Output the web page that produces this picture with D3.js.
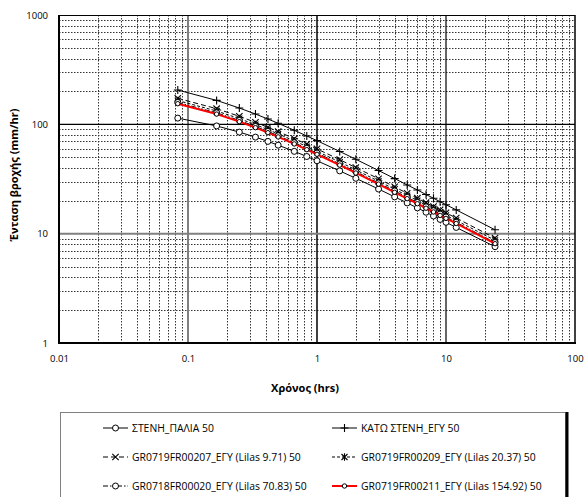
<!DOCTYPE html>
<html>
<head>
<meta charset="utf-8">
<script src="https://cdn.jsdelivr.net/npm/d3@7"></script>
<style>
  body { margin: 0; background: #fff; }
  svg { font-family: "Open Sans", "Noto Sans", sans-serif; }
</style>
</head>
<body>
<svg id="chart" width="584" height="497"></svg>
<script>
// durations in hours
const durations = [5/60, 10/60, 15/60, 20/60, 25/60, 30/60, 40/60, 50/60, 1, 1.5, 2, 3, 4, 5, 6, 7, 8, 9, 10, 12, 24];

// intensities mm/hr
const stenhPalia = [114, 96.7, 84.9, 76.4, 69.8, 64.5, 56.6, 50.8, 46.4, 37.5, 32.1, 25.6, 21.7, 19.1, 17.2, 15.7, 14.5, 13.5, 12.7, 11.4, 7.6];
const katoStenh  = [206, 165.5, 141, 124.2, 111.8, 102.2, 88.2, 78.3, 70.9, 56.5, 47.9, 37.8, 31.9, 27.9, 25.1, 22.8, 21.1, 19.6, 18.4, 16.5, 10.85];
const gr207      = [173, 139, 118.4, 104.3, 93.9, 85.8, 74.1, 65.8, 59.6, 47.5, 40.2, 31.8, 26.8, 23.4, 21.1, 19.2, 17.7, 16.5, 15.5, 13.9, 9.1];
const gr209      = [165, 132.4, 112.8, 99.4, 89.4, 81.8, 70.6, 62.6, 56.7, 45.2, 38.3, 30.2, 25.5, 22.3, 20.1, 18.2, 16.9, 15.7, 14.7, 13.2, 8.7];
const gr020      = [158.6, 127.4, 108.6, 95.6, 86.1, 78.7, 67.9, 60.3, 54.6, 43.5, 36.9, 29.1, 24.6, 21.5, 19.3, 17.6, 16.2, 15.1, 14.2, 12.7, 8.3];
const gr211      = [154.5, 124.1, 105.8, 93.2, 83.9, 76.7, 66.2, 58.7, 53.2, 42.4, 35.9, 28.4, 23.9, 20.9, 18.8, 17.1, 15.8, 14.7, 13.8, 12.4, 8.1];

const seriesNames = [
  "ΣΤΕΝΗ_ΠΑΛΙΑ 50",
  "ΚΑΤΩ ΣΤΕΝΗ_ΕΓΥ 50",
  "GR0719FR00207_ΕΓΥ (Lilas 9.71) 50",
  "GR0719FR00209_ΕΓΥ (Lilas 20.37) 50",
  "GR0718FR00020_ΕΓΥ (Lilas 70.83) 50",
  "GR0719FR00211_ΕΓΥ (Lilas 154.92) 50"
];

const xTicks = [0.01, 0.1, 1, 10, 100];
const yTicks = [1, 10, 100, 1000];

const svg = d3.select("#chart");
const pLeft = 59, pRight = 575, pTop = 15, pBottom = 343;

const x = d3.scaleLog().domain([0.01, 100]).range([pLeft, pRight]);
const y = d3.scaleLog().domain([1, 1000]).range([pBottom, pTop]);

// minor grid
let xMinor = [], yMinor = [];
[0.01, 0.1, 1, 10].forEach(d => { for (let k = 2; k <= 9; k++) xMinor.push(k * d); });
[1, 10, 100].forEach(d => { for (let k = 2; k <= 9; k++) yMinor.push(k * d); });

const grid = svg.append("g");
grid.selectAll(".vminor").data(xMinor).enter().append("line")
  .attr("x1", d => Math.round(x(d)) + 0.5).attr("x2", d => Math.round(x(d)) + 0.5)
  .attr("y1", pTop).attr("y2", pBottom)
  .attr("stroke", "#333").attr("stroke-width", 1).attr("stroke-dasharray", "1.5,1.5");
grid.selectAll(".hminor").data(yMinor).enter().append("line")
  .attr("y1", d => Math.round(y(d)) + 0.5).attr("y2", d => Math.round(y(d)) + 0.5)
  .attr("x1", pLeft).attr("x2", pRight)
  .attr("stroke", "#333").attr("stroke-width", 1).attr("stroke-dasharray", "1.5,1.5");

// major grid lines
const vMajor = [{v: 0.1, c: "#808080", w: 2}, {v: 1, c: "#000", w: 1.5}, {v: 10, c: "#000", w: 1.2}];
const hMajor = [{v: 100, c: "#000", w: 1.2}, {v: 10, c: "#808080", w: 2}];
grid.selectAll(".vmajor").data(vMajor).enter().append("line")
  .attr("x1", d => x(d.v)).attr("x2", d => x(d.v))
  .attr("y1", pTop).attr("y2", pBottom)
  .attr("stroke", d => d.c).attr("stroke-width", d => d.w);
grid.selectAll(".hmajor").data(hMajor).enter().append("line")
  .attr("y1", d => y(d.v)).attr("y2", d => y(d.v))
  .attr("x1", pLeft).attr("x2", pRight)
  .attr("stroke", d => d.c).attr("stroke-width", d => d.w);

// plot frame
svg.append("line").attr("x1", pLeft).attr("x2", pRight).attr("y1", pTop + 0.5).attr("y2", pTop + 0.5).attr("stroke", "#000");
svg.append("line").attr("x1", pRight).attr("x2", pRight).attr("y1", pTop).attr("y2", pBottom).attr("stroke", "#000").attr("stroke-width", 1.5);
svg.append("line").attr("x1", pLeft).attr("x2", pLeft).attr("y1", pTop).attr("y2", pBottom + 1).attr("stroke", "#000").attr("stroke-width", 2);
svg.append("line").attr("x1", pLeft - 1).attr("x2", pRight + 1).attr("y1", pBottom).attr("y2", pBottom).attr("stroke", "#000").attr("stroke-width", 2);

// axes
const fmt = d => (d < 1 ? String(d) : d3.format("d")(d));
const xAxis = d3.axisBottom(x).tickValues(xTicks).tickSize(0).tickPadding(12).tickFormat(fmt);
const yAxis = d3.axisLeft(y).tickValues(yTicks).tickSize(0).tickPadding(11).tickFormat(fmt);
svg.append("g").attr("transform", "translate(0," + pBottom + ")").call(xAxis)
  .call(g => g.select(".domain").remove())
  .selectAll("text").attr("font-size", 9.5).attr("fill", "#000").attr("font-family", "Open Sans, Noto Sans, sans-serif");
svg.append("g").attr("transform", "translate(" + pLeft + ",0)").call(yAxis)
  .call(g => g.select(".domain").remove())
  .selectAll("text").attr("font-size", 9.5).attr("fill", "#000").attr("font-family", "Open Sans, Noto Sans, sans-serif");

// axis titles
svg.append("text").attr("x", 305).attr("y", 392).attr("text-anchor", "middle")
  .attr("font-size", 11).attr("font-weight", "bold").text("Χρόνος (hrs)");
svg.append("text").attr("transform", "translate(18,175) rotate(-90)").attr("text-anchor", "middle")
  .attr("font-size", 11).attr("font-weight", "bold").text("Ένταση βροχής (mm/hr)");

// marker shapes
const markerPaths = {
  plus: "M-4,0H4M0,-4V4",
  cross: "M-3.2,-3.2L3.2,3.2M-3.2,3.2L3.2,-3.2",
  star: "M-3,-3L3,3M-3,3L3,-3M0,-3.8V3.8"
};

const series = [
  {name: seriesNames[0], values: stenhPalia, color: "#000", width: 1, dash: null, marker: "circle", r: 3},
  {name: seriesNames[1], values: katoStenh, color: "#000", width: 1, dash: null, marker: "plus"},
  {name: seriesNames[2], values: gr207, color: "#000", width: 1, dash: "5,3", marker: "cross"},
  {name: seriesNames[3], values: gr209, color: "#000", width: 1, dash: "3,2", marker: "star"},
  {name: seriesNames[4], values: gr020, color: "#000", width: 1, dash: "5,2,1.5,2,1.5,2", marker: "circle", r: 3},
  {name: seriesNames[5], values: gr211, color: "#ff0000", width: 2, dash: null, marker: "circle", r: 2.2}
];

const line = d3.line().x(d => x(d[0])).y(d => y(d[1]));

function drawMarker(g, s, cx, cy) {
  if (s.marker === "circle") {
    g.append("circle").attr("cx", cx).attr("cy", cy).attr("r", s.r)
      .attr("fill", "#fff").attr("stroke", "#000").attr("stroke-width", 1);
  } else {
    g.append("path").attr("d", markerPaths[s.marker]).attr("transform", "translate(" + cx + "," + cy + ")")
      .attr("fill", "none").attr("stroke", "#000").attr("stroke-width", 1.1);
  }
}

const plot = svg.append("g");
series.forEach(s => {
  const pts = durations.map((t, i) => [t, s.values[i]]);
  const g = plot.append("g");
  g.append("path").datum(pts).attr("d", line)
    .attr("fill", "none").attr("stroke", s.color).attr("stroke-width", s.width)
    .attr("stroke-dasharray", s.dash);
  pts.forEach(p => drawMarker(g, s, x(p[0]), y(p[1])));
});

// legend
const legend = svg.append("g");
legend.append("rect").attr("x", 60.5).attr("y", 412.5).attr("width", 505).attr("height", 100)
  .attr("fill", "#fff").attr("stroke", "#808080").attr("stroke-width", 1);
legend.append("line").attr("x1", 567).attr("x2", 567).attr("y1", 412).attr("y2", 497)
  .attr("stroke", "#000").attr("stroke-width", 3);

const legendCols = [103, 332];
const legendRows = [428, 457, 486];
series.forEach((s, i) => {
  const col = i % 2, row = Math.floor(i / 2);
  const lx = legendCols[col], ly = legendRows[row];
  const g = legend.append("g");
  g.append("line").attr("x1", lx).attr("x2", lx + 25).attr("y1", ly).attr("y2", ly)
    .attr("stroke", s.color).attr("stroke-width", s.width).attr("stroke-dasharray", s.dash);
  drawMarker(g, s, lx + 12.5, ly);
  g.append("text").attr("x", lx + 29).attr("y", ly).attr("dy", "0.35em")
    .attr("font-size", 10.4).attr("fill", "#000").text(s.name);
});
</script>
</body>
</html>
